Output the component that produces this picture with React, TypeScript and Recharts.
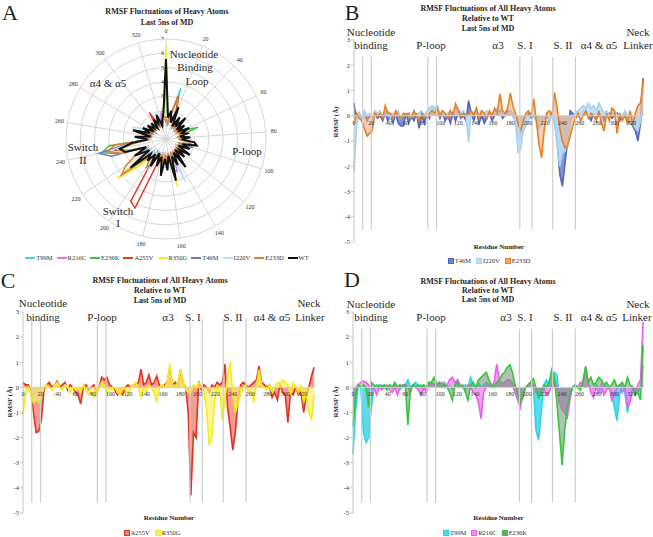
import {
  Area,
  AreaChart,
  Legend,
  PolarAngleAxis,
  PolarGrid,
  PolarRadiusAxis,
  Radar,
  RadarChart,
  ReferenceLine,
  XAxis,
  YAxis,
} from 'recharts'

const SERIF = '"Liberation Serif", "Times New Roman", serif'
const INK = '#1f1f1f'

// panel A: RMSF of heavy atoms, every 5th residue
const RADAR_RES = Array.from({ length: 67 }, (_, i) => i * 5)
const ANGLE_TICKS = [0, 20, 40, 60, 80, 100, 120, 140, 160, 180, 200, 220, 240, 260, 280, 300, 320]

const radarT99M = [
  4.3, 1.2, 1.6, 3.7, 1.5, 0.9, 1.3, 1.0, 1.4, 0.9,
  1.2, 0.9, 1.3, 1.0, 1.2, 0.9, 1.3, 1.0, 1.5, 1.6,
  1.0, 1.3, 0.9, 1.5, 1.0, 1.3, 0.9, 1.8, 1.0, 1.5,
  1.1, 2.2, 1.0, 1.6, 1.1, 1.9, 1.1, 1.5, 1.0, 1.8,
  1.2, 1.6, 2.8, 4.2, 1.3, 2.2, 1.4, 2.6, 3.8, 2.2,
  1.2, 1.8, 1.0, 2.0, 1.1, 1.5, 0.9, 1.4, 1.0, 1.3,
  0.9, 1.4, 1.1, 1.9, 0.9, 1.2, 1.6,
]
const radarR216C = [
  1.2, 1.0, 1.4, 1.5, 1.8, 0.9, 1.3, 0.9, 1.5, 0.9,
  1.2, 0.9, 1.4, 1.0, 1.2, 0.9, 1.3, 1.0, 1.5, 1.6,
  1.0, 1.4, 0.9, 1.5, 1.0, 1.4, 0.9, 1.8, 1.0, 1.5,
  2.4, 2.2, 1.0, 1.7, 1.1, 1.9, 1.1, 1.5, 1.0, 1.7,
  1.1, 1.5, 1.2, 2.4, 1.2, 2.0, 1.3, 2.6, 3.5, 2.0,
  1.1, 1.7, 1.0, 1.9, 1.0, 1.4, 0.9, 1.3, 1.0, 1.2,
  0.9, 1.3, 1.0, 1.5, 1.2, 1.9, 1.4,
]
const radarE236K = [
  1.3, 1.0, 1.4, 1.3, 1.6, 0.9, 1.3, 1.0, 1.4, 0.9,
  1.2, 0.9, 1.4, 2.4, 1.2, 0.9, 1.3, 1.0, 1.5, 1.7,
  1.0, 1.3, 0.9, 1.5, 1.0, 1.3, 0.9, 1.8, 1.0, 1.5,
  1.1, 2.3, 1.0, 1.7, 1.1, 2.0, 1.1, 1.6, 1.0, 1.7,
  1.1, 1.5, 1.2, 2.6, 1.2, 2.1, 1.3, 3.4, 4.6, 4.0,
  1.2, 1.8, 1.0, 2.0, 1.0, 1.5, 0.9, 1.3, 1.0, 1.3,
  0.9, 1.3, 1.0, 1.5, 0.9, 1.2, 1.5,
]
const radarA255V = [
  1.4, 1.1, 1.7, 3.1, 2.0, 0.9, 1.4, 1.0, 1.5, 0.9,
  1.2, 0.9, 1.4, 1.0, 1.2, 0.9, 1.3, 1.0, 1.5, 1.7,
  1.0, 1.3, 0.9, 1.5, 1.0, 1.3, 0.9, 1.9, 1.0, 1.5,
  1.1, 2.2, 1.0, 1.7, 1.1, 1.9, 1.1, 1.6, 5.3, 5.0,
  1.2, 1.6, 1.3, 2.6, 1.3, 2.1, 1.4, 2.8, 3.7, 2.1,
  1.1, 1.8, 1.0, 2.0, 1.0, 1.5, 0.9, 1.3, 1.0, 1.3,
  1.0, 2.2, 1.0, 1.5, 0.9, 1.2, 1.6,
]
const radarR350G = [
  6.6, 1.2, 1.5, 1.2, 1.9, 0.9, 1.3, 1.0, 1.5, 0.9,
  1.2, 0.9, 1.3, 1.0, 1.2, 0.9, 1.3, 1.0, 1.5, 1.7,
  1.0, 1.3, 0.9, 1.5, 1.0, 1.3, 0.9, 1.8, 1.0, 1.5,
  1.1, 3.4, 1.0, 1.7, 1.1, 1.9, 1.1, 1.5, 1.0, 1.7,
  1.1, 1.6, 2.9, 4.4, 1.3, 2.2, 1.4, 2.7, 3.5, 2.1,
  1.1, 1.8, 1.0, 2.0, 1.0, 1.5, 0.9, 1.4, 1.0, 1.3,
  0.9, 1.4, 1.0, 1.6, 0.9, 1.2, 1.7,
]
const radarT46M = [
  1.3, 1.0, 1.5, 1.5, 1.8, 0.9, 1.3, 1.0, 1.4, 0.9,
  1.2, 0.9, 1.3, 1.0, 1.2, 0.9, 1.3, 1.0, 1.6, 1.8,
  1.9, 1.3, 0.9, 1.5, 1.0, 1.3, 0.9, 1.8, 1.0, 1.5,
  1.1, 2.2, 1.0, 1.6, 1.1, 1.9, 1.1, 1.5, 1.0, 1.7,
  1.1, 1.5, 1.2, 2.5, 1.2, 2.1, 1.3, 4.0, 4.8, 2.6,
  1.1, 1.8, 1.0, 2.0, 1.0, 1.5, 0.9, 1.3, 1.0, 1.2,
  0.9, 1.3, 1.0, 1.4, 0.9, 1.2, 1.5,
]
const radarI220V = [
  1.4, 1.0, 1.5, 1.3, 1.8, 0.9, 1.3, 1.0, 1.4, 0.9,
  1.2, 0.9, 1.3, 1.0, 1.2, 0.9, 1.3, 1.7, 1.5, 1.7,
  1.0, 1.3, 0.9, 1.5, 1.0, 1.3, 0.9, 1.8, 1.0, 3.3,
  1.1, 2.2, 1.0, 1.6, 1.1, 1.9, 1.1, 1.5, 1.0, 2.6,
  1.1, 1.5, 1.2, 2.6, 1.2, 2.1, 1.3, 3.2, 4.1, 2.4,
  1.1, 1.8, 1.0, 2.0, 2.5, 1.5, 0.9, 1.3, 1.0, 1.2,
  0.9, 1.3, 1.0, 1.5, 0.9, 1.2, 1.5,
]
const radarE233D = [
  1.5, 1.1, 1.8, 3.0, 2.2, 0.9, 1.4, 1.0, 1.5, 0.9,
  1.2, 0.9, 1.4, 1.0, 1.2, 0.9, 1.3, 1.0, 1.6, 1.8,
  1.0, 1.4, 0.9, 1.5, 1.0, 1.4, 0.9, 1.9, 1.0, 1.5,
  1.1, 2.3, 1.0, 1.7, 1.1, 2.0, 1.1, 1.6, 1.2, 2.0,
  2.4, 1.7, 2.0, 4.0, 3.4, 2.4, 1.5, 3.3, 4.2, 3.6,
  1.2, 1.9, 1.0, 2.1, 1.1, 1.6, 0.9, 1.4, 1.0, 1.3,
  0.9, 1.4, 1.0, 1.6, 0.9, 1.3, 1.6,
]
const radarWT = [
  5.6, 1.5, 2.0, 1.2, 2.4, 1.0, 1.8, 1.1, 2.0, 1.0,
  1.6, 1.0, 1.8, 1.2, 1.5, 1.0, 1.7, 1.1, 2.0, 2.2,
  1.2, 1.8, 1.0, 2.0, 1.2, 1.8, 1.0, 2.4, 1.1, 2.0,
  1.3, 3.0, 1.2, 2.2, 1.4, 2.6, 1.3, 2.0, 1.1, 2.2,
  1.3, 2.0, 1.5, 3.2, 1.4, 2.5, 1.5, 3.0, 3.3, 2.4,
  1.3, 2.2, 1.1, 2.4, 1.2, 1.8, 1.0, 1.6, 1.1, 1.5,
  1.0, 1.6, 1.2, 1.8, 1.0, 1.4, 1.9,
]

// panels B-D: RMSF relative to WT, every 3rd residue
const DIFF_RES = Array.from({ length: 112 }, (_, i) => i * 3)
const RESIDUE_TICKS = [0, 20, 40, 60, 80, 100, 120, 140, 160, 180, 200, 220, 240, 260, 280, 300, 320]
const RMSF_TICKS = [3, 2, 1, 0, -1, -2, -3, -4, -5]
const REGION_EDGES = [10, 20, 85, 95, 191, 205, 229, 255]

const dT46M = [
  0.5, -0.2, 0.1, -0.1, 0.1, -0.2, 0, -0.1, 0.1, -0.1,
  0, -0.2, 0.1, -0.2, 0, -0.3, 0.1, -0.3, -0.4, -0.4,
  0.1, -0.3, 0, -0.2, 0.1, -0.5, 0, -0.3, 0.1, -0.1,
  0.3, 0.2, 0.3, -0.1, 0.1, -0.2, 0, -0.3, 0.1, -0.2,
  0.1, -0.1, 0, -0.2, 0.6, 0.1, -0.2, 0.2, -0.3, 0,
  -0.3, -0.1, 0.1, -0.2, 0, 0.1, 0.2, -0.1, 0, 0.2,
  0.1, 0, -0.2, -0.8, -0.9, -0.3, -0.2, 0.1, -0.1, 0,
  -0.2, -0.4, -0.3, -0.1, 0, -0.2, 0.1, -0.2, -1.0, -2.3,
  -2.8, -1.9, -1.0, 0.2, 0.1, -0.1, 0, 0.1, 0.2, 0.1,
  0, -0.2, 0.1, -0.1, 0, 0.1, -0.2, 0, 0.1, -0.1,
  0, 0.1, -0.2, 0, 0.1, -0.3, -0.2, -0.4, -0.6, -1.0,
  -0.3, 1.5,
]
const dI220V = [
  -2.2, -0.4, 0.1, -0.2, 0.2, 0, 0.1, -0.1, 0.2, 0.1,
  0.2, 0, 0.1, 0.2, -0.1, 0.1, 0, 0.2, -0.1, 0.1,
  0, 0.1, -0.1, 0.2, 0, 0.1, 0.2, 0, 0.2, 0.3,
  0.4, 0.3, 0.4, 0.1, 0.2, 0, 0.1, 0.2, 0, 0.3,
  0.3, 0.1, 0.2, 0, -1.05, 0.2, 0.1, 0.3, 0, 0.2,
  0.1, 0.2, 0, 0.1, 0.2, 0.3, 0.1, 0.2, 0, 0.1,
  0.2, 0.1, -0.3, -1.45, -1.3, -0.6, -0.4, -0.2, 0.1, 0,
  -0.2, -0.5, -0.3, -0.1, 0.1, -0.2, 0, -0.3, -1.2, -2.0,
  -1.5, -1.4, -1.0, -0.3, 0, 0.1, 0.2, 0.3, 0.4, 0.3,
  0.5, 0.3, 0.4, 0.2, 0.5, 0.3, 0.1, 0.2, 0, 0.1,
  0.2, 0, 0.1, -0.1, 0.2, 0, -0.2, -0.3, -0.5, -0.6,
  -0.2, 1.2,
]
const dE233D = [
  -0.3, 0.1, -0.1, -0.2, -0.5, -0.8, -0.7, -0.6, 0.1, 0,
  0.1, -0.1, 0.4, 0.1, 0.1, -0.1, 0.2, 0, -0.1, 0.1,
  0, 0.1, -0.1, 0.2, 0, -0.2, 0.1, 0, -0.1, 0.1,
  0.2, 0.1, 0.3, 0, 0.2, 0.1, -0.1, 0.2, 0, 0.47,
  0.2, 0, 0.1, 0, 0.1, 0.2, 0, 0.3, -0.1, 0.2,
  0.1, -0.1, 0.2, 0, 0.3, 0.1, 0.87, 0.2, 0.1, 0.3,
  0.9, 0.4, 0.1, -0.3, -0.6, -0.2, 0.1, 0.2, 0, 0.67,
  -0.2, -1.1, -1.67, -0.6, 0.1, 0.2, 0, 0.93, 0.3, -0.5,
  -1.0, -1.27, -1.2, -0.8, -0.4, -0.1, 0.1, -0.2, 0, 0.2,
  -0.1, 0.1, 0, -0.2, 0.2, -0.3, -0.6, 0.1, -0.2, 0.3,
  0.2, -0.7, 0.1, -0.2, 0, -0.3, 0.2, -0.4, 0.1, 0.4,
  0.5, 1.4,
]
const dA255V = [
  0.2, 0.1, 0.1, -0.1, -1.0, -1.8, -1.75, -1.3, -0.1, 0.1,
  0.2, 0, 0.1, 0.25, 0, 0.1, 0.2, -0.1, 0.1, 0,
  -0.2, -0.3, -0.66, 0, 0.1, -0.1, 0, 0.1, -0.2, 0,
  0.4, 0.3, 0.4, 0.1, 0, -0.1, -0.3, -0.2, -0.3, 0,
  0.1, 0, 0.1, 0.1, 0.2, 0.73, 0.1, 0.2, 0.5, 0.1,
  0.2, 0.45, 0.1, 0, 0.1, 0.2, 0.8, 0.1, 0.2, 0.1,
  0.7, 0.2, 0, -1.0, -4.3, -1.8, -2.0, 0.25, -0.1, 0.1,
  0, -0.2, 0.1, 0, 0.2, 0.1, 0.2, 0.93, -0.8, -1.6,
  -2.5, -1.75, -0.5, 0.1, 0.2, 0.1, 0, 0.1, 0.2, 0.3,
  0.85, 0.2, 0.1, 0, 0.1, -0.4, -0.2, -0.5, 0.1, -0.2,
  -0.3, -1.4, -0.2, -0.3, 0, -0.3, -0.2, -1.0, -0.4, 0,
  0.45, 0.8,
]
const dR350G = [
  -1.1, -0.2, 0, -0.3, -0.6, -0.5, -0.6, -0.4, 0, 0.1,
  0, -0.1, 0.1, 0.2, 0, -0.1, 0.1, 0, -0.2, 0,
  -0.1, 0, -0.2, 0.1, -0.1, -0.3, -0.2, -0.4, -0.3, 0,
  0.2, 0.1, -0.3, 0, -0.1, 0, -0.2, -0.3, 0, -0.1,
  -0.3, 0, 0.1, 0.2, 0, -0.4, 0, -0.2, 0.1, 0,
  -0.2, -0.6, 0, 0.1, 0, 0.2, 0.93, 0.1, 0, 0.2,
  0.73, 0.3, -0.1, -0.2, -0.2, 0.1, 0, 0.2, 0.1, -0.2,
  -0.9, -2.3, -2.0, -0.6, 0.1, -0.2, -1.3, -0.5, 0.4, 1.0,
  -0.3, -1.0, -0.6, -0.3, 0, 0.1, -0.2, -0.1, -0.6, 0.1,
  0.7, 0.1, 0, -0.1, 0.1, -0.2, 0, 0.2, 0.1, 0.3,
  0.2, 0.1, -0.3, 0.2, 0, -0.2, 0.1, -0.6, -0.2, -1.0,
  -1.3, -0.3,
]
const dT99M = [
  -2.65, -0.9, 0.1, 0, -1.8, -2.2, -2.0, -0.8, 0, 0.1,
  0, 0.1, 0, -0.1, 0.1, 0, 0.1, 0, -0.1, 0.1,
  0.1, 0.3, 0, 0.1, 0.2, 0, 0.1, -0.1, 0, 0.1,
  0.2, 0.1, 0.2, 0, 0.1, 0.2, 0, 0.1, -0.1, 0.1,
  0.3, 0.1, 0, 0.1, 0, 0.4, 0.1, 0, 0.2, 0,
  0.1, 0.2, 0.1, 0, 0.1, 0.2, 0.1, 0.2, 0.1, 0.3,
  0.3, 0.2, 0, -0.3, -0.5, -0.2, 0, 0.1, 0.2, 0.1,
  -1.7, -2.1, -1.0, 0.1, 0.3, 0.1, 0.4, 0.6, 0.5, -0.4,
  -0.8, -1.0, -0.4, -0.1, 0, 0.1, 0, 0.1, 0.2, 0,
  0.1, 0, -0.1, 0.1, 0, -0.2, 0.1, 0, 0, -0.3,
  -0.8, -1.33, -0.3, 0.1, -0.2, -1.0, -0.4, 0, -0.3, -0.2,
  0, 0.9,
]
const dR216C = [
  -0.2, 0, 0.1, 0.2, 0.25, 0.2, 0.1, -0.1, 0, -0.3,
  0, -0.1, 0, 0.1, -0.1, -0.2, 0, -0.3, 0, 0.1,
  0.1, 0, -0.2, 0.1, 0, -0.1, -0.3, 0, -0.2, 0.1,
  0.2, 0.1, 0, 0.1, 0.2, 0, 0.1, 0.3, 0.4, 0.2,
  0.3, 0.1, 0, -0.1, 0.1, 0, -0.2, -0.3, -0.6, -1.25,
  -0.2, 0, 0.1, 0, 0.2, 0.93, 0.3, 0.1, 0.2, 0.3,
  0.3, 0.1, -0.2, -0.5, -0.8, -0.3, 0, 0.1, 0.2, 0.1,
  -0.2, -0.3, -0.1, 0, -0.3, -0.2, 0.1, 0.3, 0, -0.6,
  -0.9, -1.0, -1.2, -0.5, 0, 0.1, 0, 0.2, 0.1, 0.85,
  0.2, -0.2, -0.4, 0, -0.2, 0.1, -0.3, -0.1, 0, -0.5,
  -0.3, 0, 0.1, -0.2, 0, -0.8, -0.6, 0, -0.2, 0.1,
  0.3, 2.6,
]
const dE236K = [
  -1.55, -0.4, 0.1, 0, 0.1, 0, -0.8, 0.2, 0.1, 0,
  0.1, 0, 0.1, -0.1, 0.1, 0, 0.2, 0, 0.1, 0,
  0.1, -1.5, 0, 0.1, 0, 0.1, 0, 0.1, 0, 0.2,
  0.2, 0.4, 0.1, 0.2, 0, 0.1, 0, -0.2, -0.5, 0.1,
  0.2, 0, 0.1, -0.2, -0.5, 0.1, 0.2, 0, 0.3, 0.4,
  0.5, 0.6, 0.3, 0.1, 0, 0.2, 0.3, 0.5, 0.6, 0.8,
  0.9, 0.6, 0.1, -0.3, -0.6, -0.4, 0, 0.1, 0.2, 0.35,
  0, -0.4, -0.2, 0.1, 0, 0.2, 0.7, 0.4, -0.6, -1.8,
  -3.1, -1.7, -0.8, -0.3, 0, 0.1, 0, -0.1, 0.3, 0.8,
  0.2, 0.4, 0.1, 0.2, 0.4, 0.3, 0.1, 0.2, 0, 0.1,
  0.3, 0, 0.1, 0.2, 0, 0.4, 0.1, 0, -0.3, -0.2,
  -0.5, 1.7,
]

const RADAR_SERIES = [
  { name: 'T99M', color: '#3fd7e6', values: radarT99M },
  { name: 'R216C', color: '#dd78e6', values: radarR216C },
  { name: 'E236K', color: '#3ec43e', values: radarE236K },
  { name: 'A255V', color: '#e23b2a', values: radarA255V },
  { name: 'R350G', color: '#f4ec33', values: radarR350G },
  { name: 'T46M', color: '#6a79c4', values: radarT46M },
  { name: 'I220V', color: '#bcdff5', values: radarI220V },
  { name: 'E233D', color: '#e0802c', values: radarE233D },
  { name: 'WT', color: '#111111', values: radarWT },
]

type DiffSeries = { name: string; stroke: string; fill: string; opacity: number; values: number[] }

const SERIES_B: DiffSeries[] = [
  { name: 'T46M', stroke: '#5466bd', fill: '#6f80cc', opacity: 0.85, values: dT46M },
  { name: 'I220V', stroke: '#a6d2f2', fill: '#bddff7', opacity: 0.9, values: dI220V },
  { name: 'E233D', stroke: '#e8801f', fill: '#eda477', opacity: 0.55, values: dE233D },
]
const SERIES_C: DiffSeries[] = [
  { name: 'A255V', stroke: '#e5311f', fill: '#f07b6e', opacity: 0.75, values: dA255V },
  { name: 'R350G', stroke: '#f4ec1a', fill: '#f6ef6a', opacity: 0.7, values: dR350G },
]
const SERIES_D: DiffSeries[] = [
  { name: 'T99M', stroke: '#2fd3e6', fill: '#46d9ea', opacity: 0.9, values: dT99M },
  { name: 'R216C', stroke: '#ea5fea', fill: '#f08af0', opacity: 0.8, values: dR216C },
  { name: 'E236K', stroke: '#35c635', fill: '#7f9a7f', opacity: 0.6, values: dE236K },
]

function Txt({ x, y, size = 11, bold = false, rotate = 0, children }: any) {
  return (
    <div
      style={{
        position: 'absolute',
        left: x,
        top: y,
        transform: `translate(-50%, -50%)${rotate ? ` rotate(${rotate}deg)` : ''}`,
        fontFamily: SERIF,
        fontSize: size,
        fontWeight: bold ? 700 : 400,
        lineHeight: 1,
        whiteSpace: 'nowrap',
        color: INK,
        pointerEvents: 'none',
      }}
    >
      {children}
    </div>
  )
}

function AngleTick(props: any) {
  const { x, y, payload } = props
  if (payload.value % 20 !== 0) return <g />
  return (
    <text x={x} y={y} textAnchor="middle" dominantBaseline="central" fontSize={6} fontFamily={SERIF} fill="#333">
      {payload.value}
    </text>
  )
}

function RadiusTick(props: any) {
  const { x, y, payload } = props
  if (payload.value === 0) return <g />
  return (
    <text x={x - 2} y={y} textAnchor="end" dominantBaseline="central" fontSize={6} fontFamily={SERIF} fill="#333">
      {payload.value}
    </text>
  )
}

function RadarPanel() {
  const data = RADAR_RES.map((res, i) => {
    const row: Record<string, number> = { res }
    RADAR_SERIES.forEach((s) => {
      row[s.name] = s.values[i]
    })
    return row
  })
  const step = 360 / RADAR_RES.length
  const spokes = ANGLE_TICKS.map((r) => 90 - RADAR_RES.indexOf(r) * step)

  const legend = () => (
    <div style={{ display: 'flex', justifyContent: 'center', gap: 4, fontFamily: SERIF, fontSize: 6.5, color: '#333' }}>
      {RADAR_SERIES.map((s) => (
        <span key={s.name} style={{ display: 'inline-flex', alignItems: 'center', gap: 1 }}>
          <svg width={10} height={4}>
            <line x1={0} y1={2} x2={10} y2={2} stroke={s.color} strokeWidth={2} />
          </svg>
          {s.name}
        </span>
      ))}
    </div>
  )

  return (
    <div style={{ position: 'absolute', left: 0, top: 0, width: 326, height: 268 }}>
      <RadarChart width={326} height={268} data={data} cx={166} cy={139} outerRadius={100} startAngle={90} endAngle={-270}>
        <PolarGrid gridType="circle" polarAngles={spokes} stroke="#d6d6d6" />
        <PolarAngleAxis dataKey="res" tick={AngleTick} tickLine={false} axisLine={false} />
        {RADAR_SERIES.map((s) => (
          <Radar
            key={s.name}
            name={s.name}
            dataKey={s.name}
            stroke={s.color}
            strokeWidth={s.name === 'WT' ? 2 : 1.5}
            fill={s.color}
            fillOpacity={0}
            dot={false}
            isAnimationActive={false}
          />
        ))}
        <PolarRadiusAxis angle={90} domain={[0, 7]} tickCount={8} axisLine={false} tick={RadiusTick} />
        <Legend
          verticalAlign="middle"
          layout="horizontal"
          align="center"
          width={326}
          wrapperStyle={{ left: 4, top: 254 }}
          content={legend}
        />
      </RadarChart>
      <Txt x={10} y={12.5} size={22}>A</Txt>
      <Txt x={167} y={12} size={8} bold>RMSF Fluctuations of Heavy Atoms</Txt>
      <Txt x={167} y={23} size={8} bold>Last 5ns of MD</Txt>
      <Txt x={194} y={54}>Nucleotide</Txt>
      <Txt x={195} y={67}>Binding</Txt>
      <Txt x={197} y={81}>Loop</Txt>
      <Txt x={247} y={151}>P-loop</Txt>
      <Txt x={83} y={147}>Switch</Txt>
      <Txt x={83} y={160}>II</Txt>
      <Txt x={118} y={211}>Switch</Txt>
      <Txt x={118} y={223}>I</Txt>
      <Txt x={108} y={83}>α4 &amp; α5</Txt>
    </div>
  )
}

type Geo = { top: number; bottom: number; left: number; right: number; lineTop: number; lineBottom: number }

function DiffPanel({
  left,
  top,
  letter,
  letterX,
  letterY,
  series,
  geo,
  notes,
  titleX,
  titleY,
  yLabelY,
  legendX,
  legendY,
}: {
  left: number
  top: number
  letter: string
  letterX: number
  letterY: number
  series: DiffSeries[]
  geo: Geo
  notes: [string, number, number][]
  titleX: number
  titleY: number[]
  yLabelY: number
  legendX: number
  legendY: number
}) {
  const data = DIFF_RES.map((res, i) => {
    const row: Record<string, number> = { res }
    series.forEach((s) => {
      row[s.name] = s.values[i]
    })
    return row
  })
  const plotH = geo.bottom - geo.top

  // labels of the residue axis sit on the zero line, as in the original
  const residueTick = (p: any) => (
    <text x={p.x} y={p.y - (plotH * 5) / 8 + 9} textAnchor="middle" fontSize={6} fontFamily={SERIF} fill="#333">
      {p.payload.value}
    </text>
  )

  const legend = () => (
    <div style={{ display: 'flex', justifyContent: 'center', gap: 5, fontFamily: SERIF, fontSize: 6.5, color: '#333' }}>
      {series.map((s) => (
        <span key={s.name} style={{ display: 'inline-flex', alignItems: 'center', gap: 1 }}>
          <svg width={6} height={6}>
            <rect x={0.5} y={0.5} width={5} height={5} fill={s.fill} stroke={s.stroke} strokeWidth={1} />
          </svg>
          {s.name}
        </span>
      ))}
    </div>
  )

  return (
    <div style={{ position: 'absolute', left, top, width: 326, height: 268 }}>
      <AreaChart
        width={326}
        height={268}
        data={data}
        margin={{ top: geo.top, right: 326 - geo.right, bottom: 0, left: 0 }}
      >
        <XAxis
          dataKey="res"
          type="number"
          domain={[0, 334]}
          ticks={RESIDUE_TICKS}
          interval={0}
          axisLine={false}
          tickLine={false}
          tickSize={0}
          tickMargin={0}
          height={268 - geo.bottom}
          tick={residueTick}
          label={{
            value: 'Residue Number',
            position: 'insideTop',
            offset: 2,
            fontSize: 7,
            fontWeight: 700,
            fontFamily: SERIF,
            fill: INK,
          }}
        />
        <YAxis
          type="number"
          domain={[-5, 3]}
          ticks={RMSF_TICKS}
          interval={0}
          width={geo.left}
          stroke="#c4c4c4"
          tickSize={3}
          tickMargin={1}
          tick={{ fontSize: 6.5, fontFamily: SERIF, fill: '#333' }}
        />
        <ReferenceLine y={0} stroke="#d0d0d0" />
        {REGION_EDGES.map((r) => (
          <ReferenceLine
            key={r}
            segment={[
              { x: r, y: geo.lineTop },
              { x: r, y: geo.lineBottom },
            ]}
            stroke="#cdcdcd"
            strokeWidth={1.2}
          />
        ))}
        {series.map((s) => (
          <Area
            key={s.name}
            name={s.name}
            dataKey={s.name}
            type="linear"
            baseValue={0}
            stroke={s.stroke}
            strokeWidth={1.6}
            fill={s.fill}
            fillOpacity={s.opacity}
            dot={false}
            activeDot={false}
            isAnimationActive={false}
          />
        ))}
        <Legend
          verticalAlign="middle"
          layout="horizontal"
          align="center"
          width={326}
          wrapperStyle={{ left: legendX - 163, top: legendY - 5 }}
          content={legend}
        />
      </AreaChart>
      <Txt x={letterX} y={letterY} size={22}>{letter}</Txt>
      <Txt x={titleX} y={titleY[0]} size={8} bold>RMSF Fluctuations of All Heavy Atoms</Txt>
      <Txt x={titleX} y={titleY[1]} size={8} bold>Relative to WT</Txt>
      <Txt x={titleX} y={titleY[2]} size={8} bold>Last 5ns of MD</Txt>
      <Txt x={10} y={yLabelY} size={7} bold rotate={-90}>RMSF (Å)</Txt>
      {notes.map(([t, x, y], i) => (
        <Txt key={i} x={x} y={y}>{t}</Txt>
      ))}
    </div>
  )
}

export default function App() {
  return (
    <div style={{ position: 'absolute', left: 0, top: 0, width: 653, height: 537, background: '#fff', overflow: 'hidden' }}>
      <RadarPanel />
      <DiffPanel
        left={326}
        top={0}
        letter="B"
        letterX={26}
        letterY={12.5}
        series={SERIES_B}
        geo={{ top: 40, bottom: 242, left: 28, right: 318, lineTop: 2.34, lineBottom: -4.5 }}
        notes={[
          ['Nucleotide', 45, 32],
          ['binding', 45, 45],
          ['P-loop', 105, 45],
          ['α3', 172, 45],
          ['S. I', 199, 45],
          ['S. II', 237, 45],
          ['α4 & α5', 273, 45],
          ['Neck', 312, 32],
          ['Linker', 312, 45],
        ]}
        titleX={162}
        titleY={[9, 19, 29]}
        yLabelY={122}
        legendX={163}
        legendY={262}
      />
      <DiffPanel
        left={0}
        top={270}
        letter="C"
        letterX={8}
        letterY={11}
        series={SERIES_C}
        geo={{ top: 42, bottom: 243, left: 23, right: 315, lineTop: 2.72, lineBottom: -4.58 }}
        notes={[
          ['Nucleotide', 43, 33],
          ['binding', 43, 47],
          ['P-loop', 102, 47],
          ['α3', 168, 47],
          ['S. I', 193, 47],
          ['S. II', 233, 47],
          ['α4 & α5', 272, 47],
          ['Neck', 309, 33],
          ['Linker', 310, 47],
        ]}
        titleX={160}
        titleY={[11, 21, 31]}
        yLabelY={132}
        legendX={152}
        legendY={264}
      />
      <DiffPanel
        left={326}
        top={270}
        letter="D"
        letterX={26}
        letterY={10}
        series={SERIES_D}
        geo={{ top: 42, bottom: 243, left: 27, right: 318, lineTop: 2.34, lineBottom: -4.58 }}
        notes={[
          ['Nucleotide', 45, 34],
          ['binding', 45, 47],
          ['P-loop', 105, 47],
          ['α3', 180, 47],
          ['S. I', 199, 47],
          ['S. II', 237, 47],
          ['α4 & α5', 273, 47],
          ['Neck', 312, 34],
          ['Linker', 311, 47],
        ]}
        titleX={162}
        titleY={[12, 21, 30]}
        yLabelY={132}
        legendX={159}
        legendY={264}
      />
    </div>
  )
}
